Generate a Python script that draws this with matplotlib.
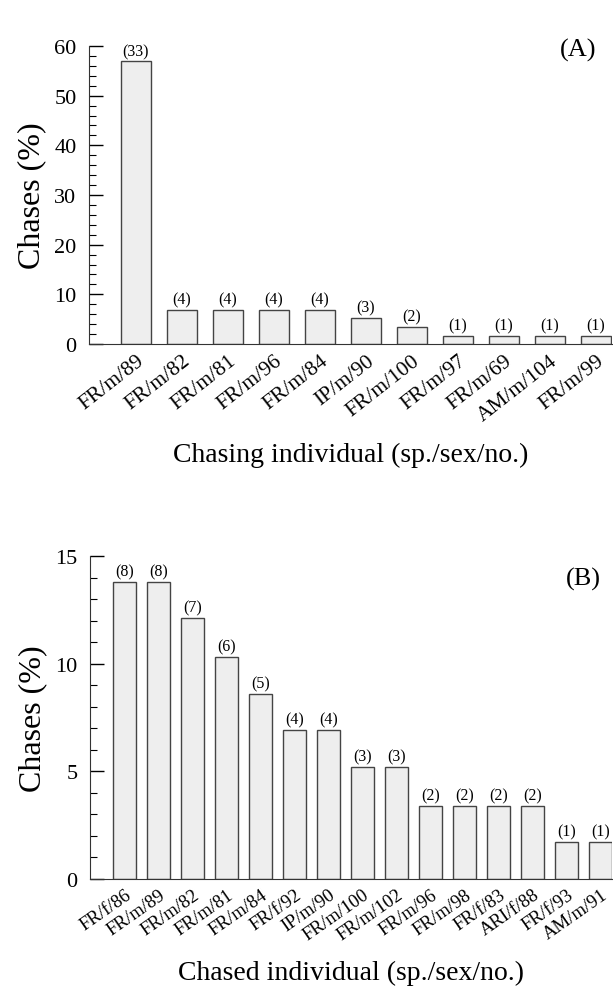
import matplotlib
matplotlib.use("Agg")
import matplotlib.pyplot as plt
from matplotlib.ticker import MultipleLocator

plt.rcParams['font.family'] = ['Liberation Serif', 'DejaVu Serif']

# Panel A: chasing individuals
chasers = ["FR/m/89", "FR/m/82", "FR/m/81", "FR/m/96", "FR/m/84", "IP/m/90",
           "FR/m/100", "FR/m/97", "FR/m/69", "AM/m/104", "FR/m/99"]
chaser_pct = [56.9, 6.9, 6.9, 6.9, 6.9, 5.2, 3.4, 1.7, 1.7, 1.7, 1.7]
chaser_n = [33, 4, 4, 4, 4, 3, 2, 1, 1, 1, 1]

# Panel B: chased individuals
chased = ["FR/f/86", "FR/m/89", "FR/m/82", "FR/m/81", "FR/m/84", "FR/f/92",
          "IP/m/90", "FR/m/100", "FR/m/102", "FR/m/96", "FR/m/98", "FR/f/83",
          "ARI/f/88", "FR/f/93", "AM/m/91"]
chased_pct = [13.8, 13.8, 12.1, 10.3, 8.6, 6.9, 6.9, 5.2, 5.2, 3.4, 3.4, 3.4,
              3.4, 1.7, 1.7]
chased_n = [8, 8, 7, 6, 5, 4, 4, 3, 3, 2, 2, 2, 2, 1, 1]

W, H = 613, 995
fig = plt.figure(figsize=(W / 100, H / 100), dpi=100)

def panel(rect, names, pct, n, width, ymax, major, minor, xlim, rot,
          xfs, nfs, xlabel, xlpad, tag, tagpos):
    ax = fig.add_axes(rect)
    x = range(len(names))
    ax.bar(x, pct, width=width, color="#eeeeee", edgecolor="#444444",
           linewidth=1.0)
    for xi, p, c in zip(x, pct, n):
        ax.text(xi, p + ymax * 0.008, f"({c})", ha="center", va="bottom",
                fontsize=nfs)
    ax.set_xlim(*xlim)
    ax.set_ylim(0, ymax)
    ax.yaxis.set_major_locator(MultipleLocator(major))
    ax.yaxis.set_minor_locator(MultipleLocator(minor))
    ax.tick_params(axis="y", which="major", direction="in", length=10,
                   width=1, labelsize=16, pad=9)
    ax.tick_params(axis="y", which="minor", direction="in", length=5,
                   width=0.8)
    ax.tick_params(axis="x", length=0, pad=5)
    ax.set_xticks(list(x))
    ax.set_xticklabels(names, rotation=rot, ha="right",
                       rotation_mode="anchor", fontsize=xfs)
    for s in ("top", "right"):
        ax.spines[s].set_visible(False)
    ax.spines["left"].set_color("#333333")
    ax.spines["bottom"].set_color("#333333")
    ax.set_ylabel("Chases (%)", fontsize=23, labelpad=6)
    ax.set_xlabel(xlabel, fontsize=20, labelpad=xlpad)
    ax.text(tagpos[0], tagpos[1], tag, transform=ax.transAxes, fontsize=19,
            ha="center", va="center")
    return ax

axA = panel([89 / W, 1 - 345 / H, 523 / W, 298 / H], chasers, chaser_pct,
            chaser_n, 0.65, 60, 10, 2, (-1.02, 10.35), 38, 15.5, 11.5,
            "Chasing individual (sp./sex/no.)", 12, "(A)", (0.935, 0.99))

axB = panel([90 / W, 1 - 880 / H, 522 / W, 323 / H], chased, chased_pct,
            chased_n, 0.68, 15, 5, 1, (-1.01, 14.33), 35, 13.5, 11.5,
            "Chased individual (sp./sex/no.)", 12, "(B)", (0.945, 0.93))

fig.savefig("out.png", dpi=100)
